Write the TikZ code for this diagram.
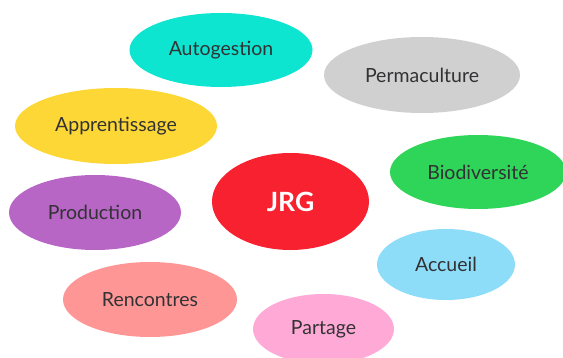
\documentclass[tikz,border=0pt]{standalone}
\usepackage{fontspec}
\setmainfont{Lato}
\usetikzlibrary{shapes.geometric}
\definecolor{cAuto}{RGB}{13,229,208}
\definecolor{cPerma}{RGB}{208,208,208}
\definecolor{cAppr}{RGB}{253,215,53}
\definecolor{cBio}{RGB}{46,213,88}
\definecolor{cJRG}{RGB}{247,33,47}
\definecolor{cProd}{RGB}{184,102,198}
\definecolor{cAcc}{RGB}{142,221,248}
\definecolor{cRenc}{RGB}{255,150,150}
\definecolor{cPart}{RGB}{255,170,214}
\definecolor{cText}{RGB}{50,50,52}
\begin{document}
\begin{tikzpicture}[x=1pt,y=-1pt,
  bubble/.style={ellipse, inner sep=0pt, text=cText, font=\fontsize{19.5}{22}\selectfont},
]
\useasboundingbox (0,0) rectangle (563,358);
\node[bubble, fill=cAuto, minimum width=183pt, minimum height=74pt] (auto) at (221,50) {Autogestion};
\node[bubble, fill=cPerma, minimum width=196pt, minimum height=76pt] (perma) at (422,75) {Permaculture};
\node[bubble, fill=cAppr, minimum width=202pt, minimum height=76pt] (appr) at (116,126) {Apprentissage};
\node[bubble, fill=cBio, minimum width=176pt, minimum height=74pt] (bio) at (478,172) {Biodiversité};
\node[bubble, fill=cJRG, minimum width=157pt, minimum height=97pt, text=white, font=\fontsize{26.5}{30}\selectfont\bfseries] (jrg) at (290.5,201.5) {JRG};
\node[bubble, fill=cProd, minimum width=172pt, minimum height=75pt] (prod) at (95,212.5) {Production};
\node[bubble, fill=cAcc, minimum width=138pt, minimum height=71pt] (acc) at (446,264.5) {Accueil};
\node[bubble, fill=cRenc, minimum width=174pt, minimum height=75pt] (renc) at (150,299.5) {Rencontres};
\node[bubble, fill=cPart, minimum width=141pt, minimum height=70pt] (part) at (323.5,329) {Partage};
\end{tikzpicture}
\end{document}
